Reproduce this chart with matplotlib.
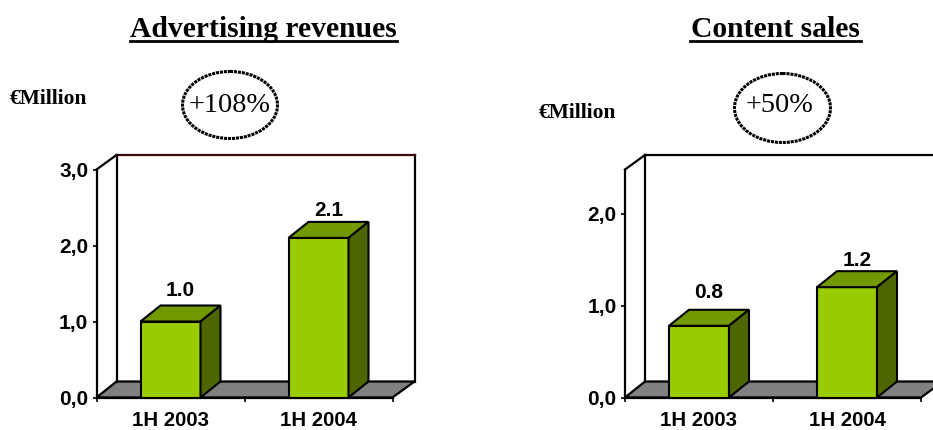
import matplotlib
matplotlib.use("Agg")
import matplotlib.pyplot as plt
from matplotlib.patches import Ellipse, Polygon

W, H = 933, 430

categories = ["1H 2003", "1H 2004"]
ad_values = [1.0, 2.1]
ad_labels = ["1.0", "2.1"]
ad_ticks = [0, 1, 2, 3]
ad_tick_labels = ["0,0", "1,0", "2,0", "3,0"]
content_values = [0.78, 1.2]
content_labels = ["0.8", "1.2"]
content_ticks = [0, 1, 2]
content_tick_labels = ["0,0", "1,0", "2,0"]

FRONT = "#99CC00"
TOP = "#739900"
SIDE = "#4D6600"
FLOOR = "#808080"
DX, DY = 20, 16  # depth of the fake 3d, pixels
SANS = "Liberation Sans"
SERIF = "Liberation Serif"
LABEL_SIZE = 15

fig = plt.figure(figsize=(W / 100, H / 100), dpi=100, facecolor="white")

# background layer in pixel coordinates, for walls and free text
bg = fig.add_axes([0, 0, 1, 1])
bg.set_xlim(0, W)
bg.set_ylim(H, 0)
bg.axis("off")


def draw_chart(x0, x1, ymax, values, labels, ticks, tick_labels, wall_right, top_color, gaps):
    y0, y1 = 397.5, 169.5

    # floor and back wall
    bg.add_patch(Polygon([(x0, y0), (x0 + DX, y0 - DY), (wall_right, y0 - DY), (x1, y0)],
                         facecolor=FLOOR, edgecolor="black", lw=1.6, zorder=1))
    bg.plot([x0 + DX, x0 + DX], [y0 - DY, y1 - 14.5], color="black", lw=1.6, zorder=2)
    bg.plot([wall_right, wall_right], [y0 - DY, y1 - 14.5], color="black", lw=1.6, zorder=2)
    bg.plot([x0 + DX, wall_right], [y1 - 14.5, y1 - 14.5], color=top_color, lw=1.6, zorder=2)
    bg.plot([x0, x0 + DX], [y1, y1 - 14.5], color="black", lw=1.6, zorder=2)

    ax = fig.add_axes([x0 / W, 1 - y0 / H, (x1 - x0) / W, (y0 - y1) / H])
    ax.patch.set_alpha(0)
    ax.set_xlim(0, 2)
    ax.set_ylim(0, ymax)
    px_x = 2 / (x1 - x0)
    px_y = ymax / (y0 - y1)
    ddx, ddy = DX * px_x, DY * px_y

    xs = [0.5, 1.5]
    width = 60 * px_x
    ax.bar(xs, values, width=width, color=FRONT, edgecolor="black", linewidth=1.5, zorder=3, clip_on=False)
    for x, v, lab, gap in zip(xs, values, labels, gaps):
        l, r = x - width / 2, x + width / 2
        ax.add_patch(Polygon([(l, v), (l + ddx, v + ddy), (r + ddx, v + ddy), (r, v)],
                             facecolor=TOP, edgecolor="black", lw=1.5, zorder=3, clip_on=False))
        ax.add_patch(Polygon([(r, 0), (r + ddx, ddy), (r + ddx, v + ddy), (r, v)],
                             facecolor=SIDE, edgecolor="black", lw=1.5, zorder=3, clip_on=False))
        ax.annotate(lab, xy=(x, v), xytext=(DX / 2, DY + gap), textcoords="offset pixels",
                    ha="center", va="center", fontsize=LABEL_SIZE, fontweight="bold", family=SANS)

    for s in ["top", "right"]:
        ax.spines[s].set_visible(False)
    ax.spines["left"].set_linewidth(1.6)
    ax.spines["bottom"].set_linewidth(1.6)
    ax.set_yticks(ticks)
    ax.set_yticklabels(tick_labels, fontsize=LABEL_SIZE, fontweight="bold", family=SANS)
    ax.set_xticks([0, 1, 2])
    ax.set_xticklabels([])
    ax.set_xticks(xs, minor=True)
    ax.set_xticklabels(categories, minor=True, fontsize=14.7, fontweight="bold", family=SANS)
    ax.tick_params(axis="x", which="minor", length=0, pad=10)
    ax.tick_params(axis="x", which="major", length=3, width=1.2)
    ax.tick_params(axis="y", length=3, width=1.2, pad=3)


draw_chart(96.5, 392.5, 3.0, ad_values, ad_labels, ad_ticks, ad_tick_labels, 414.5, "#3a0a0a", (14.7, 11.7))
draw_chart(625, 921, 2.48, content_values, content_labels, content_ticks, content_tick_labels, 943, "black", (17.7, 10.7))

# titles with their underlines
bg.text(263.5, 37, "Advertising revenues", ha="center", va="baseline", fontsize=21.3,
        fontweight="bold", family=SERIF)
bg.plot([130, 397], [40.5, 40.5], color="black", lw=2)
bg.text(775, 37, "Content sales", ha="center", va="baseline", fontsize=21.3,
        fontweight="bold", family=SERIF)
bg.plot([690, 861], [40.5, 40.5], color="black", lw=2)

bg.text(10, 104, "€Million", ha="left", va="baseline", fontsize=15.5, fontweight="bold", family=SERIF)
bg.text(539, 118, "€Million", ha="left", va="baseline", fontsize=15.5, fontweight="bold", family=SERIF)

# growth bubbles
for cx, cy, w, h, tx, ty, txt in [(230, 105, 95, 67, 230, 105, "+108%"), (782.5, 108, 96, 69, 780, 105.5, "+50%")]:
    bg.add_patch(Ellipse((cx, cy), w, h, facecolor="none", edgecolor="black", lw=2.2,
                         linestyle=(0, (1, 0.3))))
    bg.text(tx, ty, txt, ha="center", va="center", fontsize=20.3, family=SERIF)

fig.savefig("out.png", dpi=100)
